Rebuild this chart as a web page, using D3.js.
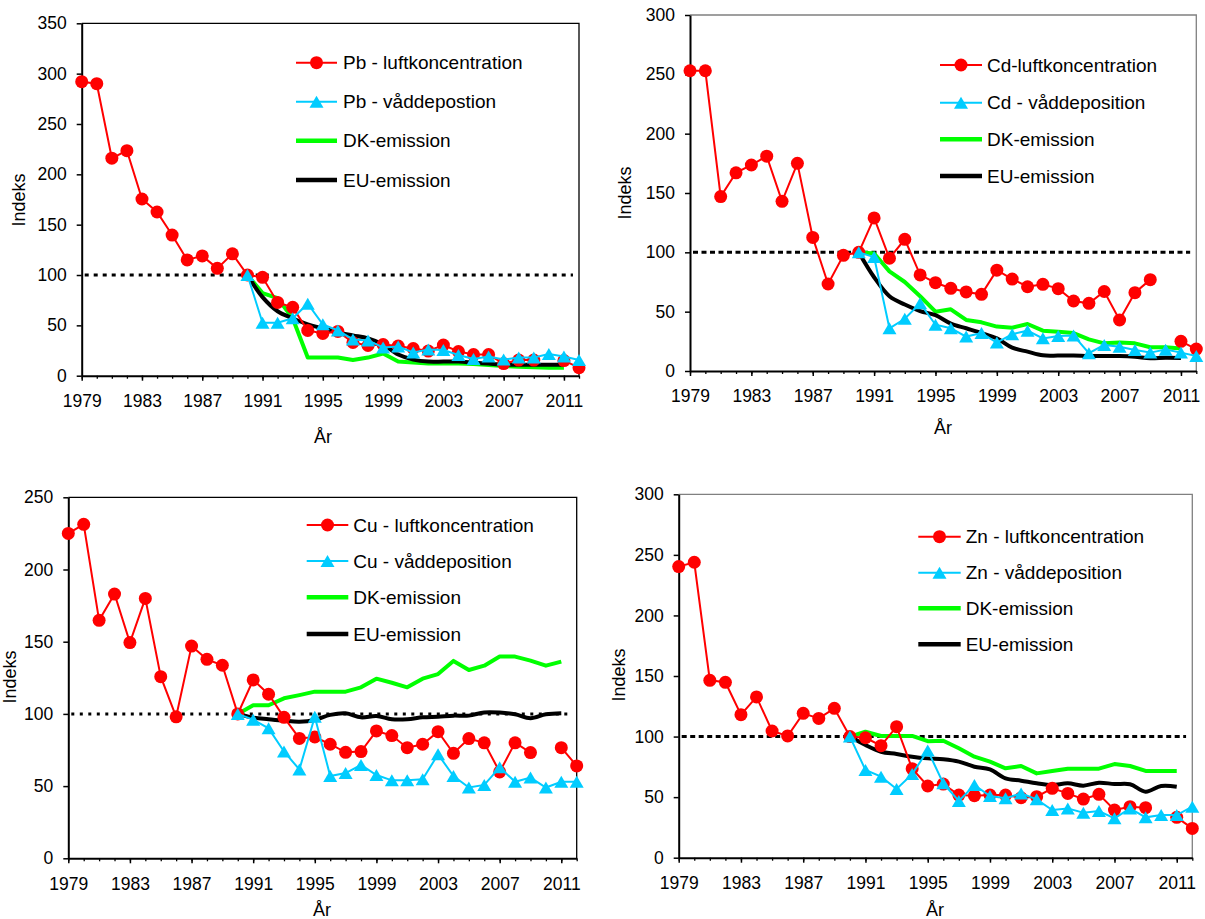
<!DOCTYPE html>
<html>
<head>
<meta charset="utf-8">
<script src="https://cdn.jsdelivr.net/npm/d3@7"></script>
<style>
  body { margin: 0; background: #fff; }
  text { font-family: "Liberation Sans", Arial, sans-serif; fill: #000; }
</style>
</head>
<body>
<div id="chart"></div>
<script>
// years on the x axis
const yearsAll = [1979, 1980, 1981, 1982, 1983, 1984, 1985, 1986, 1987, 1988, 1989, 1990,
  1991, 1992, 1993, 1994, 1995, 1996, 1997, 1998, 1999, 2000, 2001, 2002, 2003, 2004,
  2005, 2006, 2007, 2008, 2009, 2010, 2011, 2012];
const yearsDep = [1990, 1991, 1992, 1993, 1994, 1995, 1996, 1997, 1998, 1999, 2000, 2001,
  2002, 2003, 2004, 2005, 2006, 2007, 2008, 2009, 2010, 2011, 2012];
const yearsEmis = [1990, 1991, 1992, 1993, 1994, 1995, 1996, 1997, 1998, 1999, 2000, 2001,
  2002, 2003, 2004, 2005, 2006, 2007, 2008, 2009, 2010, 2011];
const yearLabels = [1979, 1983, 1987, 1991, 1995, 1999, 2003, 2007, 2011];

// y ticks
const ticks350 = [0, 50, 100, 150, 200, 250, 300, 350];
const ticks300 = [0, 50, 100, 150, 200, 250, 300];
const ticks250 = [0, 50, 100, 150, 200, 250];

// Pb
const pbLuft = [292, 290, 216, 223.5, 175.5, 162.6, 139.7, 115, 119, 106.6, 121, 100,
  97.7, 72.8, 67.9, 45, 42, 44, 33, 30, 31, 29.5,
  27, 24.5, 30.5, 24, 21, 21, 12, 15.5, 15.5, null, 15, 8];
const pbVaad = [100, 52.6, 52.6, 57, 71.5, 51, 45, 36, 35, 28,
  29, 23, 26, 25.5, 20.5, 16.5, 19, 16, 18, 18, 21.5, 19, 15.5];
const pbDK = [100, 82, 77, 57, 18, 18.2, 18, 15.5, 18, 22, 14, 13, 12, 12, 12, 11.6,
  10.6, 9.6, 9, 8.3, 8, 8];
const pbEU = [100, 78, 64, 57, 51, 47, 43, 40, 37, 31, 21, 16, 14, 14, 14, 13,
  12, 11, 11, 11, 11, 11];

// Cd
const cdLuft = [253, 253, 147, 167, 173.6, 181, 143, 175, 112.6, 73.3, 97.5, 100,
  129, 95, 111, 81, 74.4, 69.7, 66.6, 64.6, 85, 77.5,
  71, 73, 69.4, 59, 57, 67, 43, 66, 77, null, 25, 18.5];
const cdVaad = [100, 96, 36, 44, 57, 39, 36, 29, 32, 24,
  31, 34, 27.5, 29.5, 30, 15, 22, 20.5, 17.7, 15.5, 18, 15.5, 12.6];
const cdDK = [100, 99, 84, 75, 63, 50, 52, 43, 41, 37.4, 36.5, 39.6, 34, 33, 32, 26.7,
  23.3, 24, 23.3, 20, 20, 19];
const cdEU = [100, 79, 63, 56, 50.5, 47, 40, 36, 32, 27.5, 19.7, 16.3, 13.2, 13, 13,
  12.6, 12.6, 12.6, 12, 10.7, 11.2, 11];

// Cu
const cuLuft = [225, 231.3, 164.8, 183, 149.4, 180, 125.8, 98, 147, 137.8, 133.7, 100,
  123.5, 113.6, 97.6, 83, 84, 79, 73.4, 73.9, 88.2, 85,
  76.6, 79, 87.7, 72.7, 82.9, 80, 59.8, 80, 73.2, null, 76.6, 64];
const cuVaad = [100, 96, 90, 74, 61.5, 98, 57, 59, 64.6, 57.7,
  54, 54, 54.7, 72, 57, 49, 50.8, 63, 53, 55.9, 49, 53, 53];
const cuDK = [100, 106, 106, 110.8, 113, 115.4, 115.4, 115.4, 118.4, 124.4, 121.6,
  118.4, 124.4, 127.6, 136.7, 130.4, 133.4, 139.7, 139.7, 136.9, 133.4, 136.2];
const cuEU = [100, 97.4, 96.3, 95.3, 94.6, 95.8, 99.3, 100.4, 97.6, 98.6, 96.3, 96.3,
  97.6, 98.1, 98.8, 98.8, 101, 100.9, 99.7, 97, 99.7, 100.4];

// Zn
const znLuft = [240.3, 243.9, 146.4, 144.8, 118.1, 132.7, 104.6, 100.5, 119.2, 115, 123.3, 100,
  99, 92.5, 108.2, 73.5, 59.2, 60.8, 51.7, 51.2, 51.7, 51.7,
  49.5, 50.4, 57.3, 53.1, 48.4, 52.3, 39.4, 42.1, 41.3, null, 33.3, 24.2];
const znVaad = [100, 72.4, 66.9, 56.7, 69, 88.6, 61.4, 46.8, 60, 50.9,
  49, 53.1, 48.2, 39.4, 40.7, 37.2, 38.5, 32.5, 40.7, 33.3, 35.2, 35.2, 42.1];
const znDK = [100, 104, 100.5, 100.5, 100.5, 96.2, 96.6, 90.3, 83.4, 79.3, 73.8, 75.7,
  69.6, 71.6, 73.5, 73.5, 73.5, 77.3, 75.7, 71.6, 71.6, 71.6];
const znEU = [100, 93, 87.5, 85.6, 83.4, 82, 81.2, 79.3, 75.1, 72.9, 65.5, 63.6, 61.4,
  60, 61.4, 59.5, 61.9, 60.8, 60.6, 54.5, 59.2, 58.6];

const legendPb = ['Pb - luftkoncentration', 'Pb - våddepostion', 'DK-emission', 'EU-emission'];
const legendCd = ['Cd-luftkoncentration', 'Cd - våddeposition', 'DK-emission', 'EU-emission'];
const legendCu = ['Cu - luftkoncentration', 'Cu - våddeposition', 'DK-emission', 'EU-emission'];
const legendZn = ['Zn - luftkoncentration', 'Zn - våddeposition', 'DK-emission', 'EU-emission'];

(function () {

  const RED = '#ff0000', BLUE = '#00ccff', GREEN = '#00ff00', BLACK = '#000';

  const panels = [
    { left: 81.7, top: 23.3, right: 579, bottom: 375.7, yMax: 350, yTicks: ticks350,
      luft: pbLuft, vaad: pbVaad, dk: pbDK, eu: pbEU, legend: legendPb,
      border: '#000', dash: '4,5',
      leg: { x1: 296, x2: 337, tx: 343, y: [62.7, 101.7, 140.7, 180] },
      indeks: [19, 200], aar: [323, 437] },
    { left: 690, top: 15, right: 1196.3, bottom: 371, yMax: 300, yTicks: ticks300,
      luft: cdLuft, vaad: cdVaad, dk: cdDK, eu: cdEU, legend: legendCd,
      border: '#808080', dash: '5,3.5',
      leg: { x1: 940, x2: 982, tx: 987, y: [65, 102.7, 139.3, 176] },
      indeks: [625, 193], aar: [943, 428] },
    { left: 68.3, top: 497.3, right: 576.7, bottom: 858.3, yMax: 250, yTicks: ticks250,
      luft: cuLuft, vaad: cuVaad, dk: cuDK, eu: cuEU, legend: legendCu,
      border: '#000', dash: '3,5.5',
      leg: { x1: 306.7, x2: 348.3, tx: 353.3, y: [525, 561, 597.3, 634] },
      indeks: [10, 677], aar: [322, 910] },
    { left: 678.7, top: 494.3, right: 1192.3, bottom: 857.7, yMax: 300, yTicks: ticks300,
      luft: znLuft, vaad: znVaad, dk: znDK, eu: znEU, legend: legendZn,
      border: '#808080', dash: '5,3.5',
      leg: { x1: 918.3, x2: 960.7, tx: 965.7, y: [536.7, 572.7, 608.3, 644.3] },
      indeks: [619, 675], aar: [935, 910] }
  ];

  const svg = d3
    .select('#chart')
    .append('svg')
    .attr('width', 1205)
    .attr('height', 919);

  const triangle = 'M0,-6.5L7,5.5L-7,5.5Z';

  panels.forEach(p => {
    const g = svg.append('g');

    const x = d3.scaleLinear().domain([1979, 2012]).range([p.left, p.right]);
    const y = d3.scaleLinear().domain([0, p.yMax]).range([p.bottom, p.top]);

    // top and right frame
    g.append('path')
      .attr('d', `M${p.left},${p.top}H${p.right}V${p.bottom}`)
      .attr('fill', 'none')
      .attr('stroke', p.border)
      .attr('stroke-width', 1.3);

    // minor year ticks
    g.append('g')
      .attr('transform', `translate(0, ${p.bottom})`)
      .call(d3.axisBottom(x).tickValues(yearsAll).tickSize(3).tickFormat(''))
      .call(a => a.select('.domain').remove())
      .selectAll('line').attr('stroke', '#000').attr('stroke-width', 1.3);

    // major x axis
    const xAxis = g.append('g')
      .attr('transform', `translate(0, ${p.bottom})`)
      .call(d3.axisBottom(x).tickValues(yearLabels).tickSize(5).tickPadding(14)
        .tickSizeOuter(0).tickFormat(d3.format('d')));
    xAxis.select('.domain').attr('stroke', '#000').attr('stroke-width', 2);
    xAxis.selectAll('line').attr('stroke', '#000').attr('stroke-width', 1.5);
    xAxis.selectAll('text').style('font-size', '17.5px').attr('fill', '#111');

    // y axis
    const yAxis = g.append('g')
      .attr('transform', `translate(${p.left}, 0)`)
      .call(d3.axisLeft(y).tickValues(p.yTicks).tickSize(5).tickPadding(10).tickSizeOuter(0));
    yAxis.select('.domain').attr('stroke', '#000').attr('stroke-width', 2);
    yAxis.selectAll('line').attr('stroke', '#000').attr('stroke-width', 1.5);
    yAxis.selectAll('text').style('font-size', '17.5px').attr('fill', '#111');

    // reference line at 100
    g.append('line')
      .attr('x1', x(1979) + 3)
      .attr('x2', x(2011.6))
      .attr('y1', y(100))
      .attr('y2', y(100))
      .attr('stroke', '#000')
      .attr('stroke-width', 3)
      .attr('stroke-dasharray', p.dash);

    const line = yrs => d3.line()
      .defined(d => d != null)
      .x((d, i) => x(yrs[i]))
      .y(d => y(d));

    // emissions
    g.append('path')
      .attr('d', line(yearsEmis)(p.dk))
      .attr('fill', 'none')
      .attr('stroke', GREEN)
      .attr('stroke-width', 4)
      .attr('stroke-linejoin', 'round');

    g.append('path')
      .attr('d', line(yearsEmis).curve(d3.curveCatmullRom.alpha(0.5))(p.eu))
      .attr('fill', 'none')
      .attr('stroke', BLACK)
      .attr('stroke-width', 4)
      .attr('stroke-linejoin', 'round');

    // air concentration
    g.append('path')
      .attr('d', line(yearsAll)(p.luft))
      .attr('fill', 'none')
      .attr('stroke', RED)
      .attr('stroke-width', 2);

    g.append('g')
      .selectAll('circle')
      .data(p.luft.map((v, i) => ({ year: yearsAll[i], v })).filter(d => d.v != null))
      .enter()
      .append('circle')
      .attr('cx', d => x(d.year))
      .attr('cy', d => y(d.v))
      .attr('r', 6.5)
      .attr('fill', RED);

    // wet deposition
    g.append('path')
      .attr('d', line(yearsDep)(p.vaad))
      .attr('fill', 'none')
      .attr('stroke', BLUE)
      .attr('stroke-width', 2);

    g.append('g')
      .selectAll('path')
      .data(p.vaad.map((v, i) => ({ year: yearsDep[i], v })))
      .enter()
      .append('path')
      .attr('d', triangle)
      .attr('transform', d => `translate(${x(d.year)}, ${y(d.v) + 0.5})`)
      .attr('fill', BLUE);

    // legend
    const styles = [
      { c: RED, w: 2, m: 'circle' },
      { c: BLUE, w: 2, m: 'tri' },
      { c: GREEN, w: 4.5 },
      { c: BLACK, w: 4.5 }
    ];
    const cx = (p.leg.x1 + p.leg.x2) / 2;
    p.legend.forEach((label, i) => {
      const s = styles[i], ly = p.leg.y[i];
      g.append('line')
        .attr('x1', p.leg.x1).attr('x2', p.leg.x2)
        .attr('y1', ly).attr('y2', ly)
        .attr('stroke', s.c).attr('stroke-width', s.w);
      if (s.m === 'circle') {
        g.append('circle').attr('cx', cx).attr('cy', ly).attr('r', 6.5).attr('fill', s.c);
      } else if (s.m === 'tri') {
        g.append('path').attr('d', triangle)
          .attr('transform', `translate(${cx}, ${ly + 0.5})`).attr('fill', s.c);
      }
      g.append('text')
        .attr('x', p.leg.tx)
        .attr('y', ly)
        .attr('dy', '0.35em')
        .style('font-size', '19px')
        .text(label);
    });

    // axis titles
    g.append('text')
      .attr('transform', `translate(${p.indeks[0]}, ${p.indeks[1]}) rotate(-90)`)
      .attr('text-anchor', 'middle')
      .attr('dy', '0.35em')
      .style('font-size', '18px')
      .text('Indeks');

    g.append('text')
      .attr('x', p.aar[0])
      .attr('y', p.aar[1])
      .attr('text-anchor', 'middle')
      .attr('dy', '0.35em')
      .style('font-size', '18px')
      .text('År');
  });

})();
</script>
</body>
</html>
